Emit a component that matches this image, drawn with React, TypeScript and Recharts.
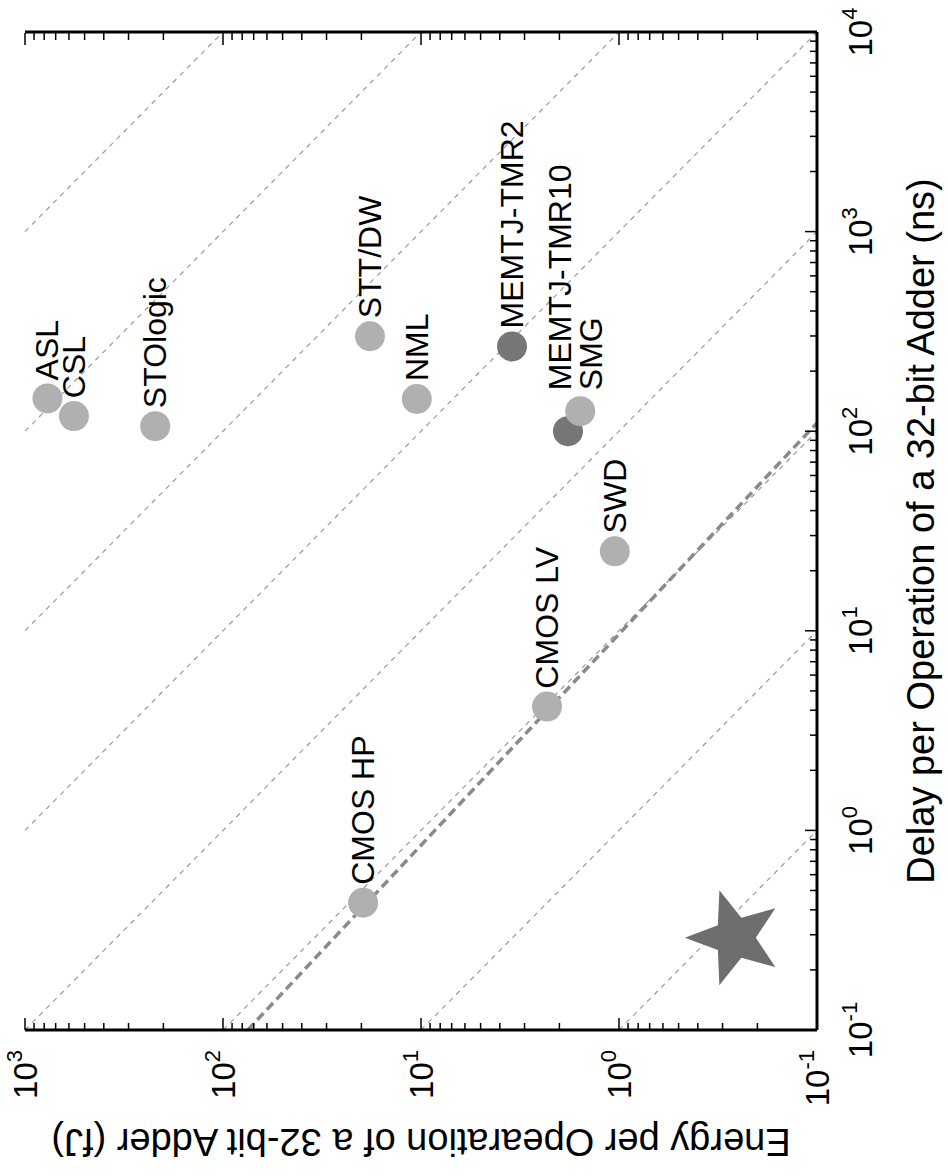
import React from "react";
import { ScatterChart, Scatter, XAxis, YAxis, ReferenceLine } from "recharts";

// devices: delay (ns) and energy (fJ) per 32-bit add
const devices = ["CMOS HP", "CMOS LV", "SWD", "STT/DW", "NML", "STOlogic", "ASL", "CSL", "MEMTJ-TMR2", "MEMTJ-TMR10", "SMG"];
const delayNs = [0.434, 4.17, 25, 299, 145, 106, 146, 119, 266, 100, 126];
const energyFj = [19.6, 2.31, 1.05, 18.1, 10.5, 220, 770, 566, 3.47, 1.81, 1.57];
const darkDevices = ["MEMTJ-TMR2", "MEMTJ-TMR10"];

// proposed device (star)
const starDelay = [0.29];
const starEnergy = [0.26];

// constant energy-delay product contours (fJ*ns)
const edpLevels = [0.1, 1, 10, 100, 1000, 10000, 100000, 1000000];

// CMOS scaling trend line
const cmosTrendDelay = [0.1, 110];
const cmosTrendEnergy = [75, 0.1];

const delayDomain = [0.1, 10000];
const energyDomain = [0.1, 1000];
const delayMajor = [0.1, 1, 10, 100, 1000, 10000];
const energyMajor = [0.1, 1, 10, 100, 1000];

const FONT = "'Liberation Sans', Arial, Helvetica, sans-serif";

const labelNudge: Record<string, { dx: number; dy: number }> = {
  "MEMTJ-TMR10": { dx: 41, dy: -8 },
  SMG: { dx: 21, dy: 11 },
};

const withMinor = (majors: number[]) => {
  const out: number[] = [];
  majors.forEach((m, i) => {
    out.push(m);
    if (i < majors.length - 1) for (let k = 2; k <= 9; k++) out.push(m * k);
  });
  return out;
};

const isMajor = (v: number) => Math.abs(Math.log10(v) - Math.round(Math.log10(v))) < 1e-9;
const expOf = (v: number) => Math.round(Math.log10(v));

const TickLabel = ({ x, y, v, anchor }: any) => (
  <text x={x} y={y} textAnchor={anchor} fontFamily={FONT} fontSize={33} fill="#000">
    10
    <tspan dy={-15} fontSize={22}>
      {expOf(v)}
    </tspan>
  </text>
);

const bottomTick = (p: any) => {
  const major = isMajor(p.payload.value);
  return (
    <g>
      <line x1={p.x} x2={p.x} y1={p.y} y2={p.y - (major ? 12 : 7)} stroke="#000" strokeWidth={1.5} />
      {major && <TickLabel x={p.x} y={p.y + 55} v={p.payload.value} anchor="middle" />}
    </g>
  );
};

const topTick = (p: any) => {
  const major = isMajor(p.payload.value);
  return <line x1={p.x} x2={p.x} y1={p.y} y2={p.y + (major ? 12 : 7)} stroke="#000" strokeWidth={1.5} />;
};

const leftTick = (p: any) => {
  const major = isMajor(p.payload.value);
  return (
    <g>
      <line x1={p.x} x2={p.x + (major ? 12 : 7)} y1={p.y} y2={p.y} stroke="#000" strokeWidth={1.5} />
      {major && <TickLabel x={p.x - 20} y={p.y + 12} v={p.payload.value} anchor="end" />}
    </g>
  );
};

const rightTick = (p: any) => {
  const major = isMajor(p.payload.value);
  return <line x1={p.x - 1} x2={p.x - 1 - (major ? 12 : 7)} y1={p.y} y2={p.y} stroke="#000" strokeWidth={1.5} />;
};

const deviceShape = (p: any) => {
  const { cx, cy, payload } = p;
  const n = labelNudge[payload.name] ?? { dx: 18, dy: 0 };
  const dark = darkDevices.includes(payload.name);
  return (
    <g>
      <circle cx={cx} cy={cy} r={15} fill={dark ? "#767676" : "#b0b0b0"} />
      <text x={cx + n.dx} y={cy + n.dy} dominantBaseline="central" fontSize={32} fontFamily={FONT} fill="#000">
        {payload.name}
      </text>
    </g>
  );
};

const starShape = (p: any) => {
  const pts: string[] = [];
  for (let i = 0; i < 10; i++) {
    const r = i % 2 === 0 ? 50 : 21;
    const a = -Math.PI / 2 + (i * Math.PI) / 5;
    pts.push(`${p.cx + r * Math.cos(a)},${p.cy + r * Math.sin(a)}`);
  }
  return <polygon points={pts.join(" ")} fill="#6e6e6e" />;
};

const emptyShape = () => <g />;

const deviceData = devices.map((name, i) => ({ name, delay: delayNs[i], energy: energyFj[i] }));
const starData = starDelay.map((d, i) => ({ name: "star", delay: d, energy: starEnergy[i] }));

const xTitle = (props: any) => {
  const vb = props.viewBox;
  return (
    <text x={vb.x + vb.width / 2} y={vb.y + vb.height - 14} textAnchor="middle" fontSize={38} fontFamily={FONT} fill="#000">
      Delay per Operation of a 32-bit Adder (ns)
    </text>
  );
};

const yTitle = (props: any) => {
  const vb = props.viewBox;
  const cx = vb.x + 34;
  const cy = vb.y + vb.height / 2;
  return (
    <text transform={`translate(${cx}, ${cy}) rotate(-90)`} textAnchor="middle" dominantBaseline="central" fontSize={38} fontFamily={FONT} fill="#000">
      Energy per Opearation of a 32-bit Adder (fJ)
    </text>
  );
};

const frame = { stroke: "#000", strokeWidth: 3 };

export default function App() {
  return (
    <div style={{ position: "absolute", left: 0, top: 0, width: 948, height: 1176, overflow: "hidden", background: "#fff" }}>
      <div
        style={{
          position: "absolute",
          left: 0,
          top: 0,
          width: 1176,
          height: 948,
          transformOrigin: "0 0",
          transform: "translate(0px, 1176px) rotate(-90deg)",
        }}
      >
        <ScatterChart width={1176} height={948} margin={{ top: 25, right: 32, bottom: 0, left: 0 }}>
          <XAxis
            xAxisId={0}
            dataKey="delay"
            type="number"
            scale="log"
            domain={delayDomain}
            allowDataOverflow
            ticks={withMinor(delayMajor)}
            interval={0}
            tickSize={0}
            tickMargin={0}
            tickLine={false}
            axisLine={frame}
            tick={bottomTick}
            height={131}
            label={{ content: xTitle }}
          />
          <XAxis
            xAxisId="top"
            orientation="top"
            dataKey="delay"
            type="number"
            scale="log"
            domain={delayDomain}
            allowDataOverflow
            ticks={withMinor(delayMajor)}
            interval={0}
            tickSize={0}
            tickMargin={0}
            tickLine={false}
            axisLine={frame}
            tick={topTick}
            height={0}
          />
          <YAxis
            yAxisId={0}
            dataKey="energy"
            type="number"
            scale="log"
            domain={energyDomain}
            allowDataOverflow
            ticks={withMinor(energyMajor)}
            interval={0}
            tickSize={0}
            tickMargin={0}
            tickLine={false}
            axisLine={frame}
            tick={leftTick}
            width={146}
            label={{ content: yTitle }}
          />
          <YAxis
            yAxisId="right"
            orientation="right"
            dataKey="energy"
            type="number"
            scale="log"
            domain={energyDomain}
            allowDataOverflow
            ticks={withMinor(energyMajor)}
            interval={0}
            tickSize={0}
            tickMargin={0}
            tickLine={false}
            axisLine={frame}
            tick={rightTick}
            width={1}
            mirror
          />
          {edpLevels.map((c) => {
            const x0 = Math.max(delayDomain[0], c / energyDomain[1]);
            const x1 = Math.min(delayDomain[1], c / energyDomain[0]);
            return (
              <ReferenceLine
                key={c}
                segment={[
                  { x: x0, y: c / x0 },
                  { x: x1, y: c / x1 },
                ]}
                stroke="#9a9a9a"
                strokeWidth={1.2}
                strokeDasharray="5 5"
                ifOverflow="visible"
              />
            );
          })}
          <ReferenceLine
            segment={[
              { x: cmosTrendDelay[0], y: cmosTrendEnergy[0] },
              { x: cmosTrendDelay[1], y: cmosTrendEnergy[1] },
            ]}
            stroke="#8a8a8a"
            strokeWidth={3.5}
            strokeDasharray="9 5"
            ifOverflow="visible"
          />
          <Scatter data={deviceData} shape={deviceShape} isAnimationActive={false} />
          <Scatter data={starData} shape={starShape} isAnimationActive={false} />
          <Scatter data={starData} xAxisId="top" yAxisId="right" shape={emptyShape} isAnimationActive={false} />
        </ScatterChart>
      </div>
    </div>
  );
}
